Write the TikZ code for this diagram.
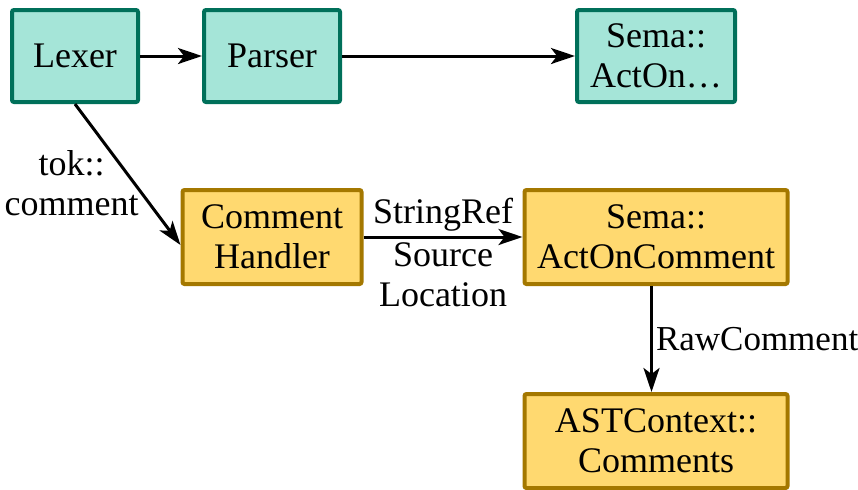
\documentclass[tikz,border=0pt]{standalone}
\usepackage{fontspec}
\setmainfont{Liberation Serif}
\usetikzlibrary{arrows.meta}
\usetikzlibrary{positioning}

\definecolor{lexfill}{HTML}{A5E5D8}
\definecolor{lexdraw}{HTML}{00705A}
\definecolor{cmtfill}{HTML}{FFD970}
\definecolor{cmtdraw}{HTML}{A47800}

\begin{document}
\begin{tikzpicture}[
    font=\fontsize{18}{20}\selectfont,
    box/.style={draw, line width=2pt, rounded corners=1pt, align=center,
      inner sep=0pt, minimum height=46pt},
    front/.style={box, fill=lexfill, draw=lexdraw},
    cmt/.style={box, fill=cmtfill, draw=cmtdraw, minimum height=47pt},
    flow/.style={-{Stealth[length=12pt,width=8pt,inset=3pt]}, line width=1.5pt}]
  \useasboundingbox (0,0) rectangle (429pt,-244.5pt);
  % front end
  \node (lexer) [front, minimum width=63pt] at (37.5pt,-28pt) {Lexer};
  \node (parser) [front, minimum width=68pt, right=31pt of lexer] {Parser};
  \node (semaact) [front, minimum width=79pt, right=116.5pt of parser] {Sema::\\ActOn\dots};
  % comment path
  \node (handler) [cmt, minimum width=89.5pt, below=42pt of parser] {Comment\\Handler};
  \node (actcomment) [cmt, minimum width=131.5pt, below=42pt of semaact] {Sema::\\ActOnComment};
  \node (astctx) [cmt, minimum width=131.5pt, below=53pt of actcomment] {ASTContext::\\Comments};
  \draw [flow] (lexer) -- (parser);
  \draw [flow] (parser) -- (semaact);
  \draw [flow] (lexer.south) -- node [pos=0.56, anchor=east, xshift=3pt, inner sep=0pt, align=center] {tok::\\comment} (handler.185);
  \draw [flow] (handler) -- node [above, inner sep=2pt] {StringRef}
    node [below, inner sep=2pt, align=center] {Source\\Location} (actcomment);
  \draw [flow] ([xshift=-2.25pt]actcomment.south) -- node [right, inner sep=1.5pt, font=\fontsize{17.5}{20}\selectfont] {RawComment} ([xshift=-2.25pt]astctx.north);
\end{tikzpicture}
\end{document}
